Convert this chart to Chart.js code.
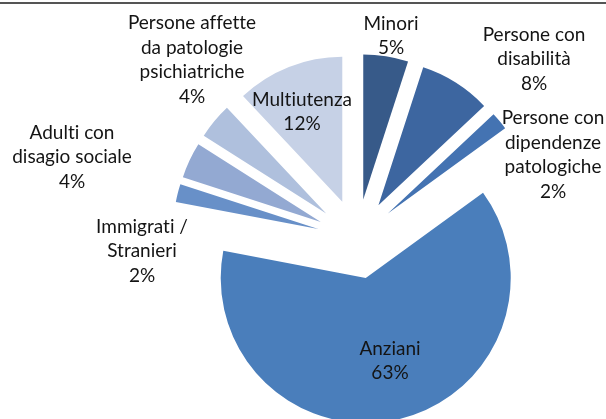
<!DOCTYPE html>
<html><head><meta charset="utf-8">
<script src="https://cdn.jsdelivr.net/npm/chart.js@4.4.1/dist/chart.umd.min.js"></script>
<style>html,body{margin:0;padding:0;background:#fff;overflow:hidden}#wrap{width:606px;height:419px}</style>
</head><body><div id="wrap"><canvas id="c" width="606" height="419"></canvas></div>
<script>
// ---- data ----
const categories = ["Minori", "Persone con disabilità", "Persone con dipendenze patologiche", "Anziani",
  "Immigrati / Stranieri", "Adulti con disagio sociale", "Persone affette da patologie psichiatriche", "Multiutenza"];
const labelLines = [["Minori"], ["Persone con", "disabilità"], ["Persone con", "dipendenze", "patologiche"], ["Anziani"],
  ["Immigrati /", "Stranieri"], ["Adulti con", "disagio sociale"], ["Persone affette", "da patologie", "psichiatriche"], ["Multiutenza"]];
const values = [5, 8, 2, 63, 2, 4, 4, 12];

// ---- style / layout ----
const colors = ["#375A89", "#3D66A0", "#4473B2", "#4A7EBB", "#6890C8", "#93A9D2", "#AFC0DD", "#C6D1E6"];
const labelOffsets = [[34,-203],[177,-180],[196,-84],[33,122],[-215,12],[-285,-82],[-165,-179],[-55,-127]];
const EXPLODE = 40;
const FONT = '19px Lato';
const LINE_H = 24.5;

function noLig(t) { return t.split('').join('\u200C'); }

const explodePlugin = {
  id: 'explode',
  beforeDatasetsDraw(chart) {
    const ctx = chart.ctx;
    const meta = chart.getDatasetMeta(0);
    meta.data.forEach(arc => {
      const mid = (arc.startAngle + arc.endAngle) / 2;
      ctx.save();
      ctx.translate(Math.cos(mid) * EXPLODE, Math.sin(mid) * EXPLODE);
      arc.draw(ctx);
      ctx.restore();
    });
    return false;
  }
};

const labelPlugin = {
  id: 'labels',
  afterDraw(chart) {
    const ctx = chart.ctx;
    const meta = chart.getDatasetMeta(0);
    ctx.save();
    ctx.fillStyle = '#555';
    ctx.fillRect(0, 2, chart.width, 2);
    ctx.font = FONT;
    ctx.fillStyle = '#141414';
    ctx.textAlign = 'center';
    ctx.textBaseline = 'middle';
    meta.data.forEach((arc, i) => {
      const lines = labelLines[i].concat([values[i] + '%']);
      const cx = arc.x + labelOffsets[i][0];
      const cy = arc.y + labelOffsets[i][1];
      const top = cy - (lines.length - 1) * LINE_H / 2;
      lines.forEach((t, j) => ctx.fillText(noLig(t), cx, top + j * LINE_H));
    });
    ctx.restore();
  }
};

new Chart(document.getElementById('c'), {
  type: 'pie',
  data: {
    labels: categories,
    datasets: [{ data: values, backgroundColor: colors, borderWidth: 0, radius: 145 }]
  },
  options: {
    responsive: false,
    animation: false,
    layout: { padding: { left: 108, right: 0, top: 59, bottom: 0 } },
    plugins: { legend: { display: false }, tooltip: { enabled: false } }
  },
  plugins: [explodePlugin, labelPlugin]
});
</script>
</body></html>
